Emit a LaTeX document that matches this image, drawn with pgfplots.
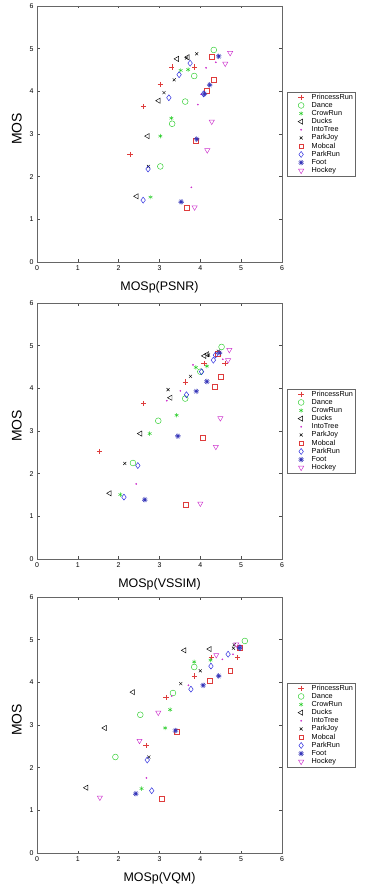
\documentclass[border=0pt]{standalone}
\usepackage{pgfplots}
\pgfplotsset{compat=1.18}
\usepackage{fontspec}
\setmainfont{Liberation Sans}
\usetikzlibrary{plotmarks}
\definecolor{mred}{RGB}{222,60,60}
\definecolor{mgreen}{RGB}{40,205,40}
\definecolor{mmag}{RGB}{205,50,205}
\definecolor{mblue}{RGB}{30,30,220}
\definecolor{mfoot}{RGB}{55,55,185}
\pgfplotsset{
  mos/.style={
    scale only axis, width=245bp, height=256bp,
    xmin=0, xmax=6, ymin=0, ymax=6,
    xtick={0,...,6}, ytick={0,...,6},
    tick align=inside, major tick length=2.5bp,
    tick style={black!70, line width=0.4pt},
    axis line style={black!60, line width=0.6pt},
    ticklabel style={font=\fontsize{7}{7}\selectfont},
    /pgf/number format/assume math mode=true,
    xlabel style={font=\fontsize{12.5}{13}\selectfont, anchor=center, at={(axis description cs:0.5,-0.098)}},
    ylabel style={font=\fontsize{14}{14}\selectfont, anchor=center, rotate=0, at={(axis description cs:-0.082,0.52)}},
    ylabel={MOS},
    legend style={at={(1.02,0.5)}, anchor=west, draw=black!60, line width=0.5pt,
      font=\fontsize{7.3}{8.8}\selectfont, inner xsep=2bp, inner ysep=1.5bp,
      nodes={inner sep=0.6bp}, row sep=0.3bp},
    legend cell align=left,
    legend image code/.code={\path[draw=none] (0bp,0bp) (22bp,0bp); \draw[##1] plot[only marks] coordinates {(12bp,0bp)};},
    every axis plot/.append style={only marks, line width=0.45pt},
  },
  pr/.style={mark=+, mark size=2.7bp, color=mred},
  da/.style={mark=o, mark size=2.9bp, color=mgreen},
  cr/.style={mark=asterisk, mark size=2.2bp, color=mgreen},
  du/.style={mark=triangle, mark size=3bp, color=black, mark options={rotate=90}},
  it/.style={mark=*, mark size=0.6bp, color=mmag},
  pj/.style={mark=x, mark size=2.1bp, color=black},
  mo/.style={mark=square, mark size=2.4bp, color=mred},
  pk/.style={mark=diamond, mark size=3bp, color=mblue},
  fo/.style={mark=10-pointed star, mark size=2.8bp, color=mfoot, mark options={fill=mfoot!35}},
  ho/.style={mark=triangle, mark size=3bp, color=mmag, mark options={rotate=180}},
}
\begin{document}
\begin{tikzpicture}
\useasboundingbox (0,0) rectangle (367bp,-889bp);
% ---------- Plot 1 : PSNR
\begin{axis}[mos, at={(37bp,-6bp)}, anchor=north west, xlabel={MOSp(PSNR)}]
\addplot[pr] coordinates {(2.28,2.52) (2.61,3.64) (3.02,4.16) (3.30,4.57) (3.86,4.57)};
\addplot[da] coordinates {(3.02,2.24) (3.31,3.24) (3.63,3.76) (3.85,4.36) (4.33,4.97)};
\addplot[cr] coordinates {(2.78,1.52) (3.02,2.95) (3.29,3.37) (3.52,4.49) (3.70,4.51)};
\addplot[du] coordinates {(2.44,1.54) (2.71,2.95) (2.98,3.78) (3.43,4.76) (3.69,4.80)};
\addplot[it] coordinates {(3.78,1.75) (3.94,3.69) (4.02,3.93) (4.14,4.55) (4.38,4.68)};
\addplot[pj] coordinates {(2.73,2.24) (3.11,3.97) (3.36,4.27) (3.66,4.78) (3.91,4.88)};
\addplot[mo] coordinates {(3.67,1.28) (3.89,2.84) (4.16,4.02) (4.32,4.27) (4.28,4.81)};
\addplot[pk] coordinates {(2.60,1.45) (2.72,2.18) (3.23,3.85) (3.48,4.39) (3.75,4.66) (4.08,3.94)};
\addplot[fo] coordinates {(3.53,1.41) (3.91,2.88) (4.10,3.94) (4.23,4.15) (4.45,4.82)};
\addplot[ho] coordinates {(3.86,1.28) (4.17,2.62) (4.28,3.29) (4.61,4.65) (4.73,4.90)};
\legend{PrincessRun,Dance,CrowRun,Ducks,IntoTree,ParkJoy,Mobcal,ParkRun,Foot,Hockey}
\end{axis}
% ---------- Plot 2 : VSSIM
\begin{axis}[mos, at={(37bp,-303bp)}, anchor=north west, xlabel={MOSp(VSSIM)}]
\addplot[pr] coordinates {(1.53,2.52) (2.61,3.64) (3.63,4.15) (4.09,4.58) (4.60,4.58)};
\addplot[da] coordinates {(2.35,2.25) (2.97,3.24) (3.63,3.76) (4.00,4.39) (4.52,4.97)};
\addplot[cr] coordinates {(2.04,1.51) (2.76,2.94) (3.42,3.37) (3.89,4.49) (4.16,4.52)};
\addplot[du] coordinates {(1.78,1.54) (2.53,2.94) (3.27,3.78) (4.10,4.76) (4.17,4.80)};
\addplot[it] coordinates {(2.43,1.76) (3.18,3.71) (3.51,3.94) (3.82,4.55) (4.55,4.68)};
\addplot[pj] coordinates {(2.15,2.24) (3.21,3.97) (3.76,4.28) (4.20,4.78) (4.44,4.87)};
\addplot[mo] coordinates {(3.65,1.28) (4.05,2.85) (4.36,4.04) (4.49,4.28) (4.42,4.82)};
\addplot[pk] coordinates {(2.13,1.45) (2.47,2.19) (3.66,3.85) (4.03,4.39) (4.32,4.66) (4.37,4.78)};
\addplot[fo] coordinates {(2.64,1.39) (3.45,2.88) (3.90,3.93) (4.16,4.16) (4.47,4.83)};
\addplot[ho] coordinates {(4.00,1.30) (4.38,2.63) (4.49,3.30) (4.68,4.66) (4.71,4.90)};
\legend{PrincessRun,Dance,CrowRun,Ducks,IntoTree,ParkJoy,Mobcal,ParkRun,Foot,Hockey}
\end{axis}
% ---------- Plot 3 : VQM
\begin{axis}[mos, at={(37bp,-597bp)}, anchor=north west, xlabel={MOSp(VQM)}]
\addplot[pr] coordinates {(2.67,2.52) (3.16,3.64) (3.86,4.15) (4.27,4.58) (4.91,4.58)};
\addplot[da] coordinates {(1.92,2.25) (2.53,3.24) (3.33,3.75) (3.85,4.36) (5.09,4.97)};
\addplot[cr] coordinates {(2.56,1.51) (3.14,2.93) (3.26,3.36) (3.85,4.48) (4.25,4.52)};
\addplot[du] coordinates {(1.21,1.53) (1.66,2.93) (2.35,3.77) (3.61,4.75) (4.23,4.78)};
\addplot[it] coordinates {(2.68,1.76) (3.30,3.68) (3.71,3.93) (4.54,4.54) (4.80,4.66)};
\addplot[pj] coordinates {(2.74,2.25) (3.52,3.97) (4.00,4.27) (4.81,4.80) (4.83,4.88)};
\addplot[mo] coordinates {(3.05,1.27) (3.43,2.85) (4.23,4.03) (4.73,4.27) (4.97,4.81)};
\addplot[pk] coordinates {(2.81,1.46) (2.70,2.18) (3.77,3.84) (4.26,4.38) (4.68,4.66) (4.97,4.81)};
\addplot[fo] coordinates {(2.42,1.39) (3.39,2.87) (4.07,3.93) (4.45,4.15) (4.96,4.81)};
\addplot[ho] coordinates {(1.54,1.30) (2.51,2.63) (2.97,3.29) (4.39,4.64) (4.88,4.89)};
\legend{PrincessRun,Dance,CrowRun,Ducks,IntoTree,ParkJoy,Mobcal,ParkRun,Foot,Hockey}
\end{axis}
\end{tikzpicture}
\end{document}
